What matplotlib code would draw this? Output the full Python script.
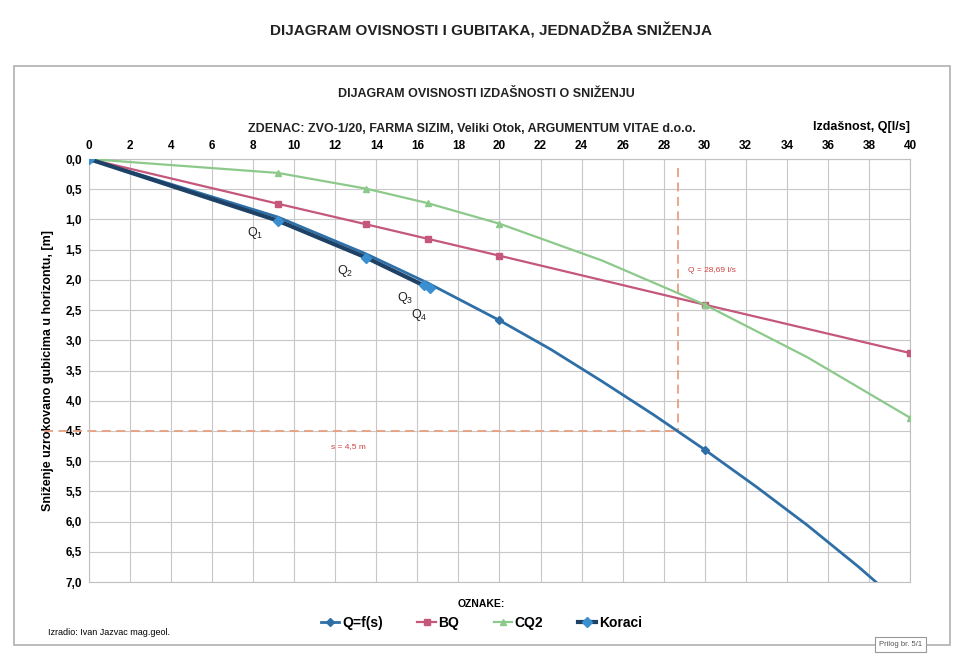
import matplotlib.pyplot as plt
from matplotlib.patches import Rectangle

plt.rcParams['font.family'] = ['Liberation Sans', 'DejaVu Sans']

# izdasnost Q [l/s] and snizenje s [m]
q_pts = [0, 9.2, 13.5, 16.5, 20, 30, 40]
bq = [0, 0.74, 1.08, 1.32, 1.60, 2.41, 3.21]

q_cq2 = [0, 9.2, 13.5, 16.5, 20, 25, 30, 35, 40]
cq2 = [0, 0.23, 0.49, 0.73, 1.07, 1.68, 2.41, 3.28, 4.28]
cq2_marks = [0, 1, 2, 3, 4, 6, 8]

q_curve = [0, 9.2, 13.5, 16.5, 20, 22.5, 25, 27.5, 30, 32.5, 35, 37.5, 40]
s_curve = [0, 0.96, 1.57, 2.05, 2.67, 3.15, 3.68, 4.23, 4.81, 5.42, 6.06, 6.75, 7.49]
curve_marks = [0, 4, 8]

q_steps = [0, 9.2, 13.5, 16.3, 16.6]
s_steps = [0, 1.02, 1.63, 2.09, 2.14]
step_names = ['$\\mathregular{Q_1}$', '$\\mathregular{Q_2}$', '$\\mathregular{Q_3}$', '$\\mathregular{Q_4}$']
step_label_pos = [(8.1, 1.22), (12.5, 1.85), (15.4, 2.3), (16.1, 2.58)]

q_opt = 28.69
s_opt = 4.5

x_ticks = list(range(0, 41, 2))
y_ticks = [i * 0.5 for i in range(15)]

fig = plt.figure(figsize=(9.63, 6.59), dpi=100)
fig.patches.append(Rectangle((0.015, 0.022), 0.972, 0.878, transform=fig.transFigure,
                             fill=False, edgecolor='#b0b0b0', lw=1.2))
fig.text(0.51, 0.953, 'DIJAGRAM OVISNOSTI I GUBITAKA, JEDNADŽBA SNIŽENJA',
         ha='center', va='center', fontsize=11, fontweight='bold', color='#222222')
fig.text(0.505, 0.858, 'DIJAGRAM OVISNOSTI IZDAŠNOSTI O SNIŽENJU',
         ha='center', va='center', fontsize=9, fontweight='bold', color='#222222')
fig.text(0.49, 0.805, 'ZDENAC: ZVO-1/20, FARMA SIZIM, Veliki Otok, ARGUMENTUM VITAE d.o.o.',
         ha='center', va='center', fontsize=9, fontweight='bold', color='#222222')

ax = fig.add_axes([0.0924, 0.1168, 0.8525, 0.6419])

ax.plot(q_curve, s_curve, color='#2e6fa7', lw=2, marker='D', ms=4.5,
        markevery=curve_marks, label='Q=f(s)', zorder=3)
ax.plot(q_pts, bq, color='#c4577a', lw=1.6, marker='s', ms=5, label='BQ', zorder=3)
ax.plot(q_cq2, cq2, color='#8cc98a', lw=1.6, marker='^', ms=4,
        markevery=cq2_marks, label='CQ2', zorder=3)
ax.plot(q_steps, s_steps, color='#1d4266', lw=3, marker='D', ms=5,
        markerfacecolor='#3a8fd0', markeredgecolor='#3a8fd0', label='Koraci', zorder=4)

for name, (xl, yl) in zip(step_names, step_label_pos):
    ax.text(xl, yl, name, fontsize=9, color='#222222', ha='center', va='center')

# radna tocka
ax.plot([-2.2, q_opt], [s_opt, s_opt], color='#e8a080', lw=1.3, ls=(0, (5, 3)),
        clip_on=False, zorder=2)
ax.plot([q_opt, q_opt], [0.15, s_opt], color='#e8a080', lw=1.3, ls=(0, (5, 3)), zorder=2)
ax.text(11.8, 4.75, 's = 4,5 m', fontsize=6, color='#d04040', ha='left', va='center')
ax.text(29.2, 1.85, 'Q = 28,69 l/s', fontsize=6, color='#d04040', ha='left', va='center')

ax.set_xlim(0, 40)
ax.set_ylim(7.0, 0.0)
ax.xaxis.tick_top()
ax.set_xticks(x_ticks)
ax.set_xticklabels([str(v) for v in x_ticks], fontsize=8.5, fontweight='bold')
ax.set_yticks(y_ticks)
ax.set_yticklabels([('%.1f' % v).replace('.', ',') for v in y_ticks],
                   fontsize=8.5, fontweight='bold')
ax.tick_params(length=0, pad=5)
ax.grid(True, color='#c8c8c8', lw=0.8)
for sp in ax.spines.values():
    sp.set_color('#c0c0c0')

ax.set_ylabel('Sniženje uzrokovano gubicima u horizontu, [m]', fontsize=9,
              fontweight='bold', labelpad=8)
ax.text(1.0, 1.075, 'Izdašnost, Q[l/s]', transform=ax.transAxes, ha='right',
        va='center', fontsize=9, fontweight='bold')

fig.text(0.5, 0.083, 'OZNAKE:', ha='center', va='center', fontsize=7.5, fontweight='bold')
leg = fig.legend(loc='center', bbox_to_anchor=(0.5, 0.055), ncol=4, frameon=False,
                 fontsize=10, handlelength=1.3, handletextpad=0.2, columnspacing=2.5)
for t in leg.get_texts():
    t.set_fontweight('bold')

fig.text(0.05, 0.04, 'Izradio: Ivan Jazvac mag.geol.', ha='left', va='center', fontsize=6.5)
fig.text(0.935, 0.022, 'Prilog br. 5/1', ha='center', va='center', fontsize=5.5,
         color='#555555', bbox=dict(boxstyle='square,pad=0.5', fc='white', ec='#999999', lw=0.8))

fig.savefig('out.png', dpi=100)
